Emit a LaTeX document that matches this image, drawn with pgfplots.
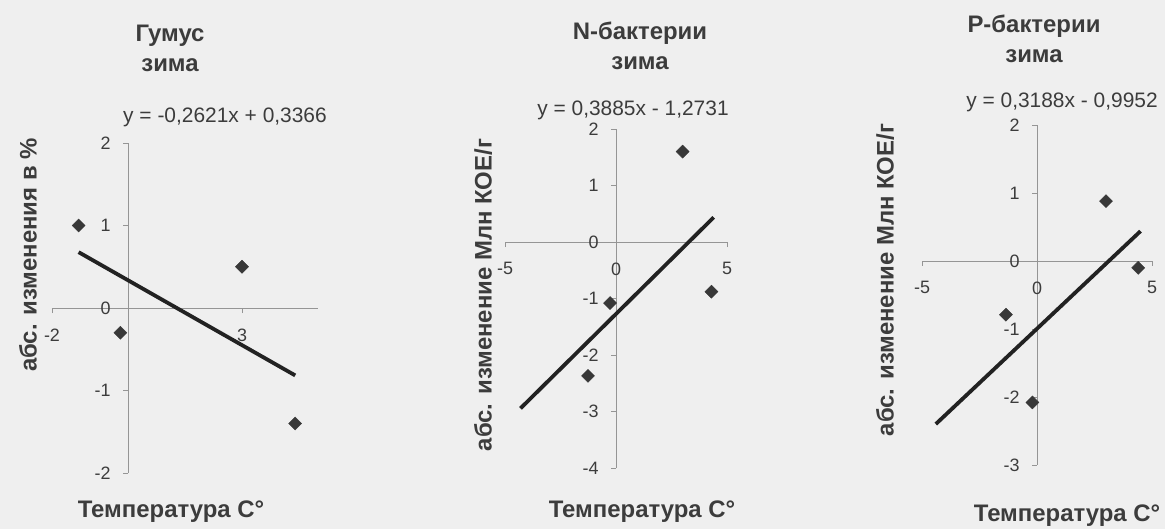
\documentclass[border=0pt]{standalone}
\usepackage{pgfplots}
\pgfplotsset{compat=1.18}
\usepackage{fontspec}
\setmainfont{Liberation Sans}
\definecolor{bgc}{HTML}{EFEFEF}
\definecolor{txt}{HTML}{3C3C3C}
\definecolor{axl}{HTML}{959595}
\definecolor{mk}{HTML}{383838}
\definecolor{trend}{HTML}{222222}

\pgfplotsset{
  panel/.style={
    scale only axis, anchor=south west,
    axis lines=middle, clip=false,
    hide obscured x ticks=false, hide obscured y ticks=false,
    axis line style={draw=axl, line width=0.8bp, -},
    tick style={draw=axl, line width=0.8bp},
    tick align=outside, major tick length=5bp,
    tick label style={font=\fontsize{18}{21}\selectfont, text=txt},
    /pgf/number format/assume math mode=true,
    yticklabel style={xshift=-9bp},
    xticklabel style={yshift=-12bp},
  },
  pts/.style={only marks, mark=square*, mark size=4.6bp,
    mark options={rotate=45, draw=mk, fill=mk}},
  fit/.style={no marks, draw=trend, line width=3.8bp},
}
\newcommand{\ttl}{\fontsize{24}{30}\selectfont\bfseries}
\newcommand{\lbl}{\fontsize{24}{26}\selectfont\bfseries}
\newcommand{\eqn}{\fontsize{21}{24}\selectfont}

\begin{document}
\begin{tikzpicture}[x=1bp, y=1bp]
\path[fill=bgc] (0bp,0bp) rectangle (1165bp,529bp);
\useasboundingbox (0bp,0bp) rectangle (1165bp,529bp);

% Гумус
\begin{axis}[panel, at={(52bp,56bp)}, width=266bp, height=330bp,
    xmin=-2, xmax=5, ymin=-2, ymax=2,
    xtick={-2,3}, ytick={-2,-1,0,1,2}]
\addplot[pts] coordinates {(-1.3,1.0) (-0.2,-0.3) (3.0,0.5) (4.4,-1.4)};
\addplot[fit] coordinates {(-1.3,0.677) (4.4,-0.817)};
\end{axis}
\node[txt, align=center, font=\ttl] at (170bp,481bp) {Гумус\\зима};
\node[txt, font=\eqn] at (225bp,412bp) {y = -0,2621x + 0,3366};
\node[txt, font=\lbl] at (171bp,17bp) {Температура C°};
\node[txt, font=\lbl, rotate=90] at (28bp,274bp) {абс. изменения в \%};

% N-бактерии
\begin{axis}[panel, at={(505bp,61bp)}, width=222bp, height=339bp,
    xmin=-5, xmax=5, ymin=-4, ymax=2,
    xtick={-5,0,5}, ytick={-4,-3,-2,-1,0,1,2}]
\addplot[pts] coordinates {(3.0,1.6) (4.3,-0.88) (-0.27,-1.08) (-1.26,-2.37)};
\addplot[fit] coordinates {(-4.3,-2.944) (4.4,0.436)};
\end{axis}
\node[txt, align=center, font=\ttl] at (640bp,483bp) {N-бактерии\\зима};
\node[txt, font=\eqn] at (633bp,419bp) {y = 0,3885x - 1,2731};
\node[txt, font=\lbl] at (642bp,17bp) {Температура C°};
\node[txt, font=\lbl, rotate=90] at (483bp,234bp) {абс. изменение Млн КОЕ/г};

% P-бактерии
\begin{axis}[panel, at={(922bp,64bp)}, width=230bp, height=340bp,
    xmin=-5, xmax=5, ymin=-3, ymax=2,
    xtick={-5,0,5}, ytick={-3,-2,-1,0,1,2}]
\addplot[pts] coordinates {(3.0,0.88) (4.4,-0.1) (-1.35,-0.79) (-0.2,-2.08)};
\addplot[fit] coordinates {(-4.4,-2.398) (4.5,0.439)};
\end{axis}
\node[txt, align=center, font=\ttl] at (1034bp,490bp) {Р-бактерии\\зима};
\node[txt, font=\eqn] at (1062bp,427bp) {y = 0,3188x - 0,9952};
\node[txt, font=\lbl] at (1067bp,13bp) {Температура C°};
\node[txt, font=\lbl, rotate=90] at (885bp,249bp) {абс. изменение Млн КОЕ/г};
\end{tikzpicture}
\end{document}
